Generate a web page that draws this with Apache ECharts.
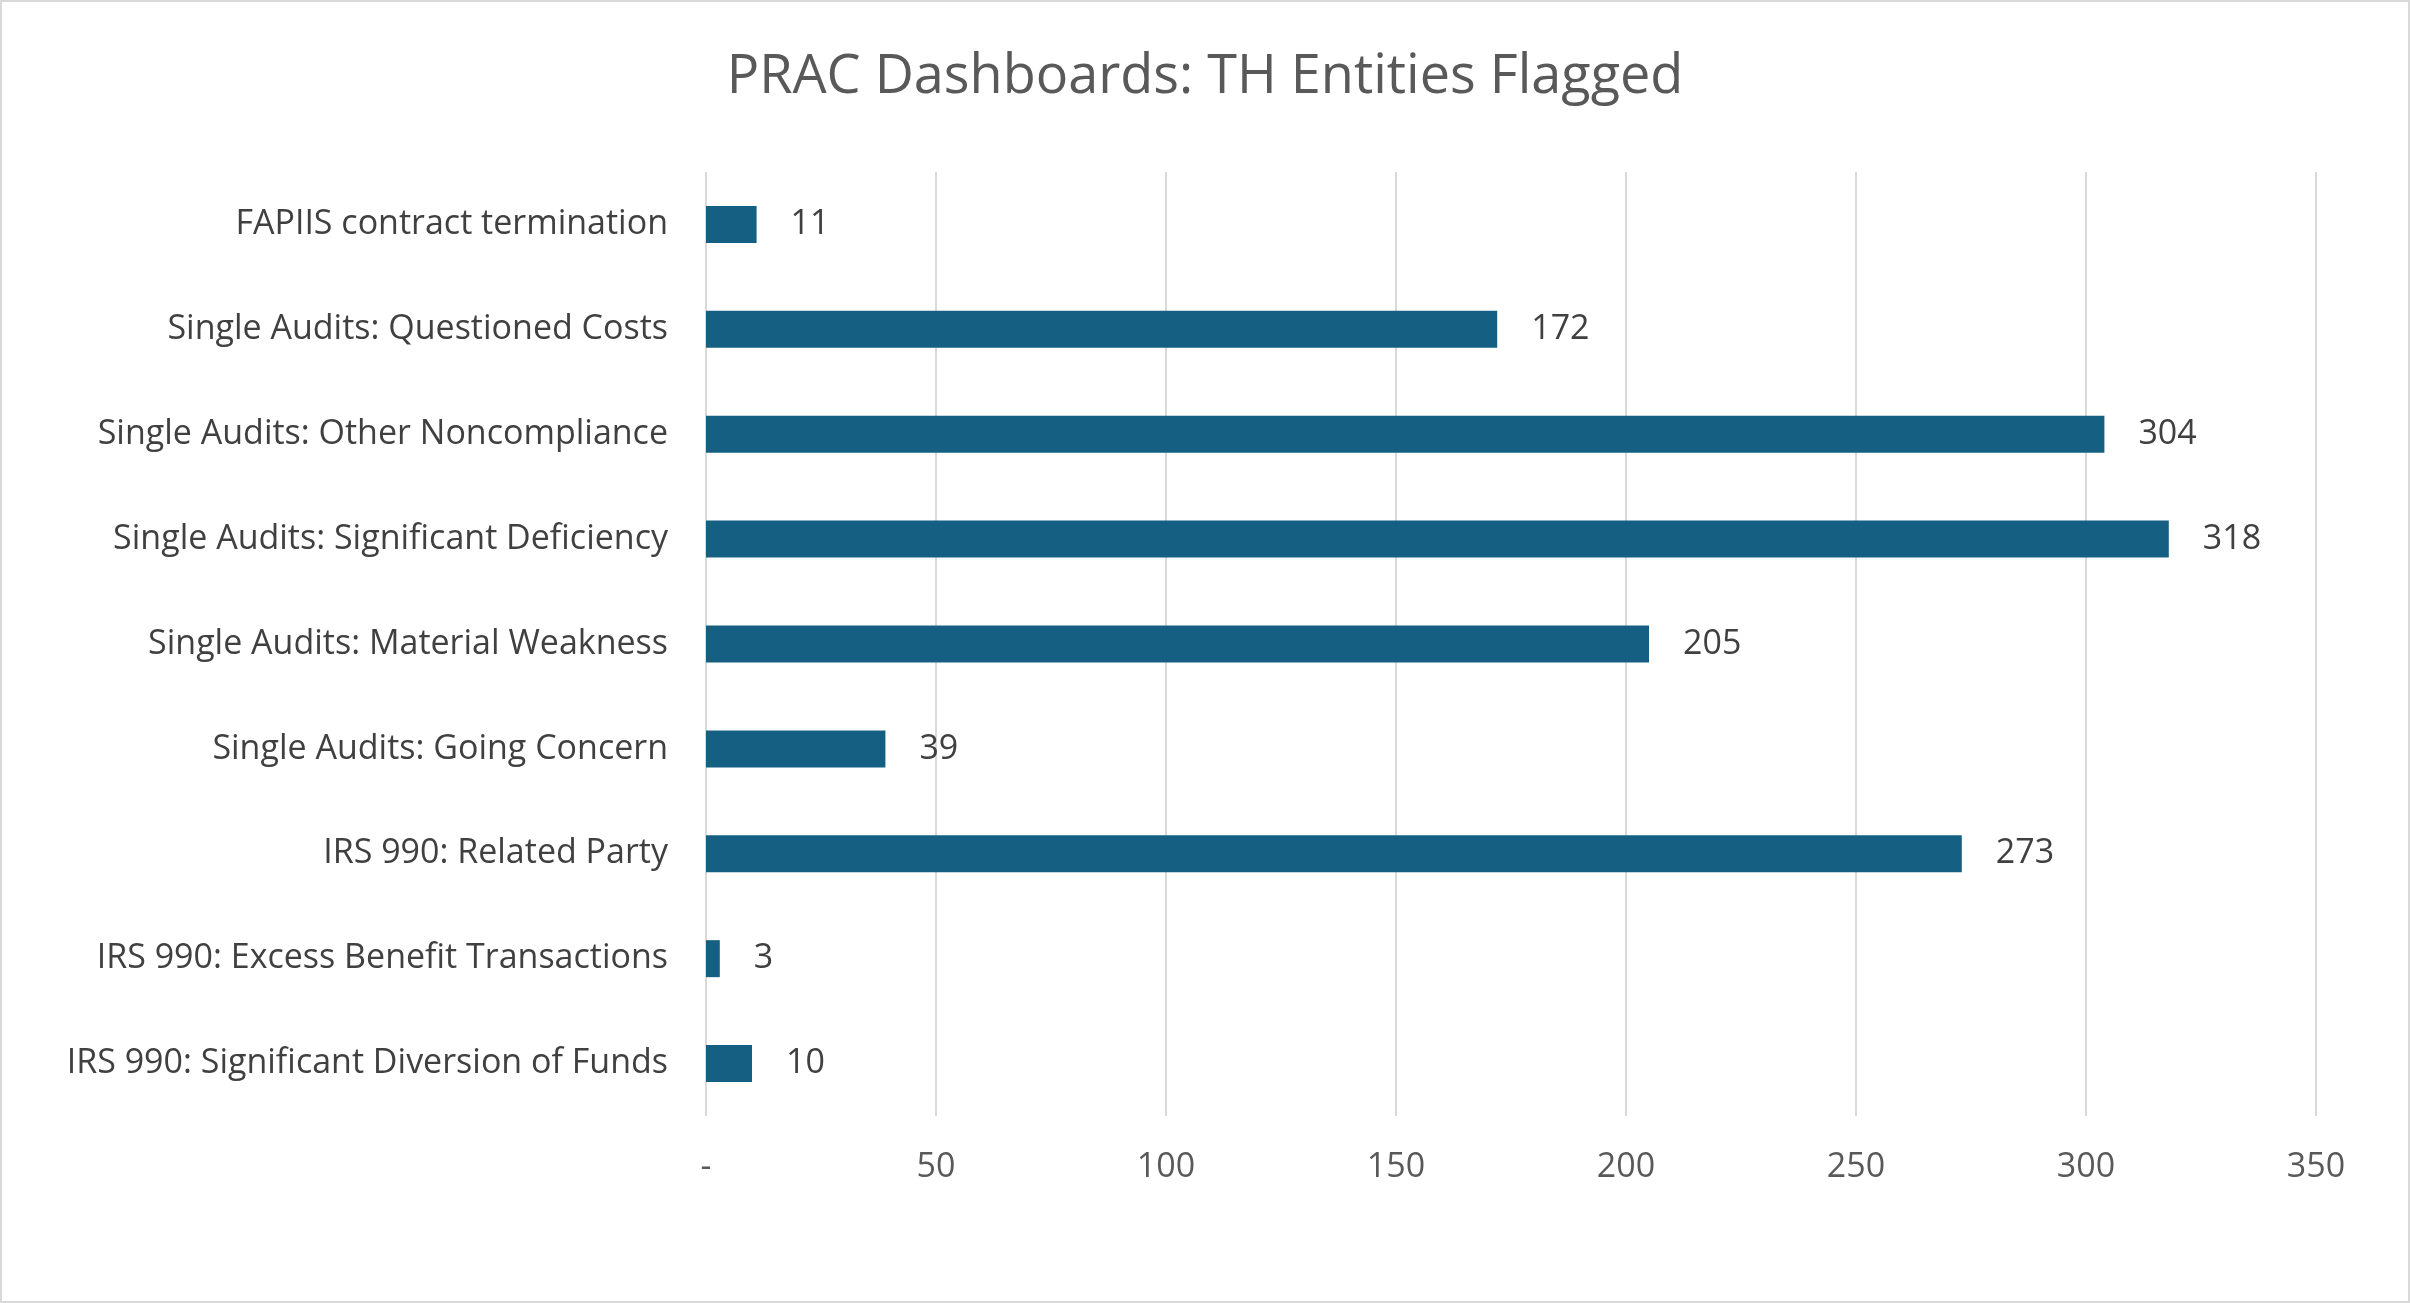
<!DOCTYPE html>
<html><head><meta charset="utf-8">
<script src="https://cdn.jsdelivr.net/npm/echarts@6/dist/echarts.min.js"></script>
<style>html,body{margin:0;padding:0;background:#fff}#c{width:2410px;height:1303px;box-sizing:border-box;border:2px solid #d9d9d9}</style>
</head><body><div id="c"></div>
<script>
const categories = ['FAPIIS contract termination', 'Single Audits: Questioned Costs', 'Single Audits: Other Noncompliance',
  'Single Audits: Significant Deficiency', 'Single Audits: Material Weakness', 'Single Audits: Going Concern',
  'IRS 990: Related Party', 'IRS 990: Excess Benefit Transactions', 'IRS 990: Significant Diversion of Funds']
const values = [11, 172, 304, 318, 205, 39, 273, 3, 10]
const tickMax = 350

const chart = echarts.init(document.getElementById('c'))
chart.setOption({
  title: {
    text: 'PRAC Dashboards: TH Entities Flagged',
    left: 'center', top: 44,
    textStyle: { color: '#595959', fontSize: 54, fontWeight: 'normal', fontFamily: 'Open Sans' }
  },
  grid: { left: 704, right: 92, top: 170, bottom: 185 },
  xAxis: {
    type: 'value', min: 0, max: tickMax, interval: 50,
    axisLabel: { color: '#595959', fontSize: 34, margin: 34, fontFamily: 'Open Sans',
      formatter: v => v === 0 ? '-' : v },
    splitLine: { lineStyle: { color: '#d9d9d9', width: 2 } },
    axisLine: { show: false }, axisTick: { show: false }
  },
  yAxis: {
    type: 'category', data: categories, inverse: true,
    axisLabel: { color: '#404040', fontSize: 34, margin: 38, fontFamily: 'Open Sans' },
    axisLine: { show: false }, axisTick: { show: false }
  },
  series: [{
    type: 'bar', data: values, barWidth: 37,
    itemStyle: { color: '#156082' },
    label: { show: true, position: 'right', distance: 34, color: '#404040', fontSize: 34, fontFamily: 'Open Sans' }
  }]
})
</script></body></html>
